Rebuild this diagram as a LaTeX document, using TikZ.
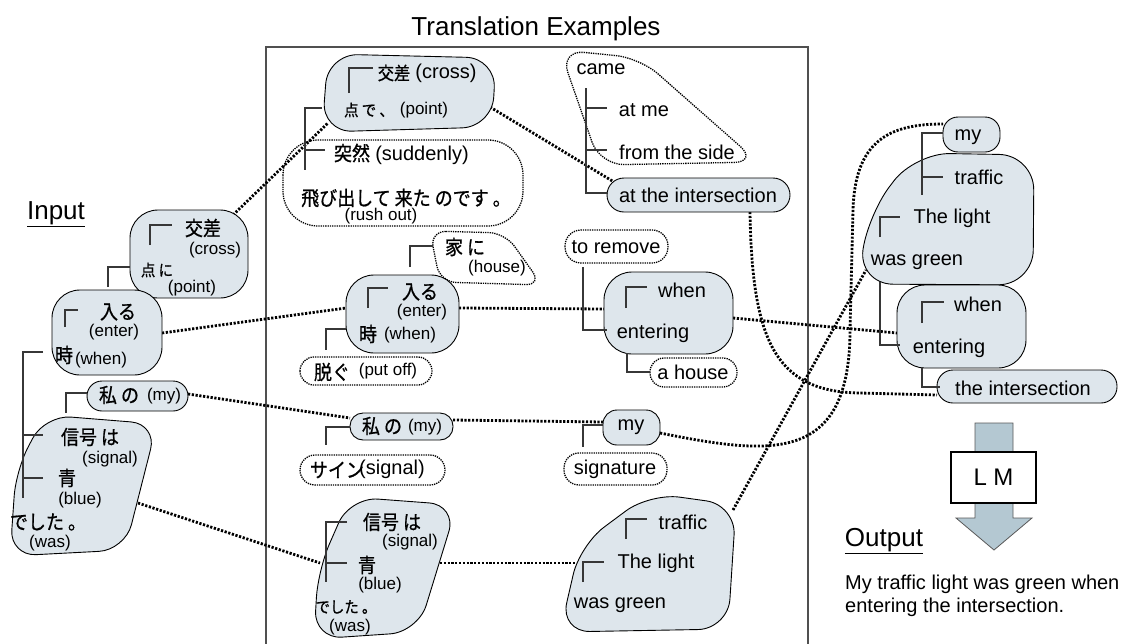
\documentclass[tikz,border=0pt]{standalone}
\usepackage{fontspec}
\setmainfont{Liberation Sans}
\newfontfamily\jp[FakeStretch=0.9,FakeBold=0.8]{Noto Sans CJK JP}
\usepackage{tikz}

\definecolor{blobfill}{RGB}{222,230,236}
\definecolor{lmfill}{RGB}{180,200,210}
\definecolor{treegray}{RGB}{55,55,55}
\definecolor{framegray}{RGB}{80,80,80}

\tikzset{
  blob/.style={draw=black, line width=0.9pt, fill=blobfill},
  dotblob/.style={draw=black, line width=1.3pt, dash pattern=on 1.3pt off 1pt},
  treeline/.style={draw=treegray, line width=2.6pt},
  joinline/.style={draw=black, line width=2.8pt, dash pattern=on 2.2pt off 1.6pt},
  jtxt/.style={inner sep=0pt, font=\jp\fontsize{20}{22}\selectfont},
  jmid/.style={inner sep=0pt, font=\jp\fontsize{18}{20}\selectfont},
  jsml/.style={inner sep=0pt, font=\jp\fontsize{16}{18}\selectfont},
  etxt/.style={inner sep=0pt, font=\fontsize{20}{24}\selectfont},
  stxt/.style={inner sep=0pt, font=\fontsize{17}{20}\selectfont},
  head/.style={inner sep=0pt, font=\fontsize{26}{30}\selectfont},
}

\begin{document}
\begin{tikzpicture}[x=1pt,y=-1pt]
\useasboundingbox (0,0) rectangle (1138,643);

% end points of the links
\coordinate (i1r) at (233,215);
\coordinate (e1l) at (328,123);
\coordinate (i2r) at (162,333);
\coordinate (e4l) at (346,308);
\coordinate (i3r) at (188,394);
\coordinate (e6l) at (350,418);
\coordinate (i4r) at (138,503);
\coordinate (e8l) at (320,563);
\coordinate (e1r) at (490,107);
\coordinate (t2l) at (614,182);
\coordinate (e4r) at (459,308);
\coordinate (t4l) at (604,309);
\coordinate (e6r) at (453,420);
\coordinate (t6l) at (603,422);
\coordinate (e8r) at (440,563);
\coordinate (t8l) at (576,563);
\coordinate (t4r) at (733,318);
\coordinate (o3l) at (897,333);
\coordinate (t2b) at (750,212);
\coordinate (bend1) at (860,393);
\coordinate (o4l) at (937,395);
\coordinate (t6r) at (660,433);
\coordinate (bend2) at (850,330);
\coordinate (bend3) at (853,210);
\coordinate (o1l) at (943,124);
\coordinate (t8r) at (733,510);
\coordinate (o2l) at (866,270);

\node[head, anchor=base] (title) at (536,35) {Translation Examples};
\draw[framegray, line width=1.4pt] (266,646) -- (266,47) -- (808,47) -- (808,646);

\draw[joinline] (i1r) -- (e1l);
\draw[joinline] (i2r) -- (e4l);
\draw[joinline] (i3r) -- (e6l);
\draw[joinline] (i4r) -- (e8l);
\draw[joinline] (e1r) -- (t2l);
\draw[joinline] (e4r) -- (t4l);
\draw[joinline] (e6r) -- (t6l);
\draw[joinline] (e8r) -- (t8l);
\draw[joinline] (t4r) -- (o3l);
\draw[joinline] (t8r) -- (o2l);
\draw[joinline] (t2b) .. controls (752,340) and (775,392) .. (bend1) -- (o4l);
\draw[joinline] (t6r) .. controls (770,455) and (850,465) .. (bend2) -- (bend3)
  .. controls (855,140) and (890,124) .. (o1l);

% input
\draw[blob, rounded corners=28pt] (130,210) rectangle (248,298);
\draw[blob, rounded corners=28pt] (52,290) rectangle (162,375);
\draw[blob, rounded corners=15pt] (87,381) rectangle (188,411);
\draw[blob, rounded corners=26pt] (45,415) -- (157,424) -- (125,550) -- (10,556) -- (16,470) -- cycle;

% examples
\draw[blob, rounded corners=30pt] (328,54) -- (496,58) -- (492,127) -- (322,132) -- cycle;
\draw[dotblob, rounded corners=35pt] (283,140) rectangle (523,226);
\draw[dotblob, rounded corners=16pt] (430,231) -- (505,233) -- (542,285) -- (440,282) -- cycle;
\draw[blob, rounded corners=28pt] (346,275) rectangle (459,353);
\draw[dotblob, rounded corners=14pt] (300,357) rectangle (432,385);
\draw[blob, rounded corners=13pt] (350,413) rectangle (453,440);
\draw[dotblob, rounded corners=15pt] (300,455) rectangle (445,485);
\draw[blob, rounded corners=28pt] (350,497) -- (457,505) -- (418,632) -- (314,639) -- (318,570) -- cycle;

\draw[dotblob, rounded corners=24pt] (560,50) -- (640,58) -- (758,162) -- (600,165) -- cycle;
\draw[blob, rounded corners=17pt] (607,178) rectangle (790,212);
\draw[dotblob, rounded corners=16pt] (565,230) rectangle (668,263);
\draw[blob, rounded corners=28pt] (604,272) rectangle (733,354);
\draw[dotblob, rounded corners=14pt] (650,358) rectangle (737,387);
\draw[blob, rounded corners=14pt] (603,410) rectangle (660,445);
\draw[dotblob, rounded corners=15pt] (564,453) rectangle (667,485);
\draw[blob, rounded corners=30pt] (650,493) -- (736,505) -- (728,629) -- (560,632) -- (580,545) -- cycle;

% output
\draw[blob, rounded corners=35pt] (915,153) -- (1034,155) -- (1033,285) -- (858,284) -- (868,215) -- cycle;
\draw[blob, rounded corners=15pt] (943,117) rectangle (1000,152);
\draw[blob, rounded corners=28pt] (897,285) rectangle (1026,368);
\draw[blob, rounded corners=16pt] (937,370) rectangle (1117,403);

% dependency trees
\draw[treeline] (108,287) -- (108,267) -- (130,267);
\draw[treeline] (150,245) -- (150,225) -- (172,225);
\draw[treeline] (65,327) -- (65,310) -- (78,310);
\draw[treeline] (43,352) -- (23,352) -- (23,498);
\draw[treeline] (23,435) -- (43,435);
\draw[treeline] (23,478) -- (43,478);
\draw[treeline] (87,393) -- (66,393) -- (66,413);

\draw[treeline] (349,93) -- (349,68) -- (373,68);
\draw[treeline] (322,108) -- (305,108) -- (305,170);
\draw[treeline] (305,150) -- (325,150);
\draw[treeline] (410,267) -- (410,246) -- (433,246);
\draw[treeline] (368,308) -- (368,288) -- (388,288);
\draw[treeline] (346,329) -- (326,329) -- (326,350);
\draw[treeline] (350,427) -- (326,427) -- (326,445);
\draw[treeline] (347,522) -- (326,522) -- (326,582);
\draw[treeline] (326,563) -- (347,563);

\draw[treeline] (586,88) -- (586,193) -- (608,193);
\draw[treeline] (586,108) -- (607,108);
\draw[treeline] (586,150) -- (607,150);
\draw[treeline] (583,267) -- (583,330) -- (607,330);
\draw[treeline] (626,308) -- (626,287) -- (647,287);
\draw[treeline] (627,353) -- (627,372) -- (650,372);
\draw[treeline] (603,425) -- (583,425) -- (583,447);
\draw[treeline] (626,539) -- (626,519) -- (647,519);
\draw[treeline] (583,582) -- (583,562) -- (604,562);

\draw[treeline] (943,133) -- (922,133) -- (922,195);
\draw[treeline] (922,177) -- (943,177);
\draw[treeline] (880,237) -- (880,217) -- (900,217);
\draw[treeline] (880,282) -- (880,345) -- (900,345);
\draw[treeline] (922,323) -- (922,302) -- (944,302);
\draw[treeline] (922,367) -- (922,387) -- (940,387);

% texts
\node[head, anchor=base] (inlbl) at (56,219) {\underline{Input}};
\node[jtxt] (i1a) at (203,228) {交差};
\node[stxt] (i1b) at (215,250) {(cross)};
\node[jsml] (i1c) at (157,270) {点 に};
\node[stxt] (i1d) at (192,288) {(point)};
\node[jtxt] (i2a) at (118,312) {入る};
\node[stxt] (i2b) at (114,332) {(enter)};
\node[jtxt] (i2c) at (64,355) {時};
\node[stxt] (i2d) at (101,360) {(when)};
\node[jtxt] (i3a) at (119,395) {私 の};
\node[stxt] (i3b) at (164,396) {(my)};
\node[jtxt] (i4a) at (90,437) {信号 は};
\node[stxt] (i4b) at (110,459) {(signal)};
\node[jtxt] (i4c) at (67,478) {青};
\node[stxt] (i4d) at (80,500) {(blue)};
\node[jtxt] (i4e) at (48,522) {でした 。};
\node[stxt] (i4f) at (50,543) {(was)};

\node[jmid] (e1a) at (394,73) {交差};
\node[etxt] (e1b) at (446,73) {(cross)};
\node[jsml] (e1c) at (369,110) {点 で 、};
\node[stxt] (e1d) at (424,110) {(point)};
\node[jtxt] (e2a) at (352,153) {突然};
\node[etxt] (e2b) at (422,155) {(suddenly)};
\node[jtxt] (e2c) at (406,198) {飛び出して 来た のです 。};
\node[stxt] (e2d) at (381,216) {(rush out)};
\node[jtxt] (e3a) at (465,247) {家 に};
\node[stxt] (e3b) at (497,268) {(house)};
\node[jtxt] (e4a) at (420,292) {入る};
\node[stxt] (e4b) at (422,312) {(enter)};
\node[jtxt] (e4c) at (368,334) {時};
\node[stxt] (e4d) at (410,335) {(when)};
\node[jtxt] (e5a) at (332,372) {脱ぐ};
\node[stxt] (e5b) at (388,371) {(put off)};
\node[jtxt] (e6a) at (382,426) {私 の};
\node[stxt] (e6b) at (425,427) {(my)};
\node[jtxt] (e7a) at (337,470) {サイン};
\node[etxt] (e7b) at (392,469) {(signal)};
\node[jtxt] (e8a) at (392,522) {信号 は};
\node[stxt] (e8b) at (410,542) {(signal)};
\node[jtxt] (e8c) at (367,565) {青};
\node[stxt] (e8d) at (380,585) {(blue)};
\node[jsml] (e8e) at (346,607) {でした 。};
\node[stxt] (e8f) at (350,627) {(was)};

\node[etxt] (t1a) at (601,69) {came};
\node[etxt] (t1b) at (644,110) {at me};
\node[etxt] (t1c) at (677,152) {from the side};
\node[etxt] (t2) at (698,195) {at the intersection};
\node[etxt] (t3) at (616,247) {to remove};
\node[etxt] (t4a) at (682,290) {when};
\node[etxt] (t4b) at (653,333) {entering};
\node[etxt] (t5) at (693,372) {a house};
\node[etxt] (t6) at (631,427) {my};
\node[etxt] (t7) at (615,469) {signature};
\node[etxt] (t8a) at (683,522) {traffic};
\node[etxt] (t8b) at (656,563) {The light};
\node[etxt] (t8c) at (620,605) {was green};

\node[etxt] (o1) at (968,137) {my};
\node[etxt] (o2a) at (979,177) {traffic};
\node[etxt] (o2b) at (952,218) {The light};
\node[etxt] (o2c) at (917,262) {was green};
\node[etxt] (o3a) at (978,304) {when};
\node[etxt] (o3b) at (949,348) {entering};
\node[etxt] (o4) at (1023,388) {the intersection};

% language model step
\draw[fill=lmfill, draw=gray!70!black, line width=0.8pt] (975,423) -- (1013,423) -- (1013,518)
  -- (1032,518) -- (994,550) -- (956,518) -- (975,518) -- cycle;
\node[draw=black, fill=white, line width=1.5pt, minimum width=85pt, minimum height=51pt,
  font=\fontsize{24}{28}\selectfont] (lm) at (993.5,477.5) {L M};

\node[head, anchor=base] (outlbl) at (884,546) {\underline{Output}};
\node[etxt, anchor=west] (sent1) at (845,584) {My traffic light was green when};
\node[etxt, anchor=west] (sent2) at (845,607) {entering the intersection.};

\end{tikzpicture}
\end{document}
